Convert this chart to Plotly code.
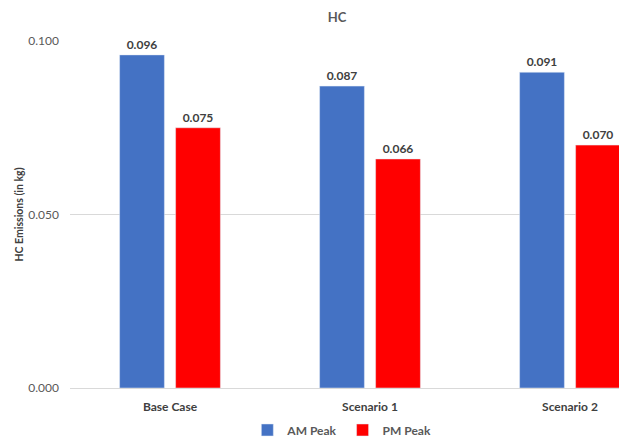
import plotly.graph_objects as go

categories = ["Base Case", "Scenario 1", "Scenario 2"]
am_peak = [0.096, 0.087, 0.091]
pm_peak = [0.075, 0.066, 0.070]
y_ticks = [0.0, 0.05, 0.1]

font_family = "Lato, Calibri, Open Sans, sans-serif"
grey = "#595959"

fig = go.Figure()
fig.add_trace(go.Bar(
    x=categories, y=am_peak, name="AM Peak", marker_color="#4472C4",
    text=[f"{v:.3f}" for v in am_peak], textposition="outside",
    textfont=dict(size=12, color="#404040", family=font_family, weight="bold"),
    cliponaxis=False
))
fig.add_trace(go.Bar(
    x=categories, y=pm_peak, name="PM Peak", marker_color="#FF0000",
    text=[f"{v:.3f}" for v in pm_peak], textposition="outside",
    textfont=dict(size=12, color="#404040", family=font_family, weight="bold"),
    cliponaxis=False
))

# the page puts the figure 8px in from the top-left corner, so margins allow for it
fig.update_layout(
    width=627, height=438,
    paper_bgcolor="white", plot_bgcolor="white",
    font=dict(family=font_family, color=grey, size=12),
    title=dict(text="<b>HC</b>", x=329 / 627, xanchor="center",
               y=(438 - 9) / 438, yanchor="middle",
               font=dict(size=13, color=grey)),
    barmode="group", bargap=0.44, bargroupgap=0.2,
    margin=dict(l=62, r=8, t=33, b=58, autoexpand=False),
    xaxis=dict(range=[-0.5, 2.285], showline=False, ticks="", showgrid=False,
               ticklabelstandoff=10,
               tickfont=dict(size=12, color="#404040", weight="bold")),
    yaxis=dict(range=[0, 0.1], tickvals=y_ticks, tickformat=".3f",
               showgrid=True, gridcolor="#D9D9D9", gridwidth=1,
               zeroline=True, zerolinecolor="#D9D9D9", zerolinewidth=1,
               ticklabelstandoff=10,
               title=dict(text="<b>HC Emissions (in kg)</b>", standoff=2,
                          font=dict(size=10.5, color="#404040")),
               tickfont=dict(size=12, color=grey)),
    legend=dict(orientation="h", x=306 / 627, xanchor="center", y=-0.121, yanchor="middle",
                font=dict(size=12, color=grey, weight="bold"), itemwidth=30,
                traceorder="normal", tracegroupgap=0),
    showlegend=True,
)

fig.write_html("out.html")
